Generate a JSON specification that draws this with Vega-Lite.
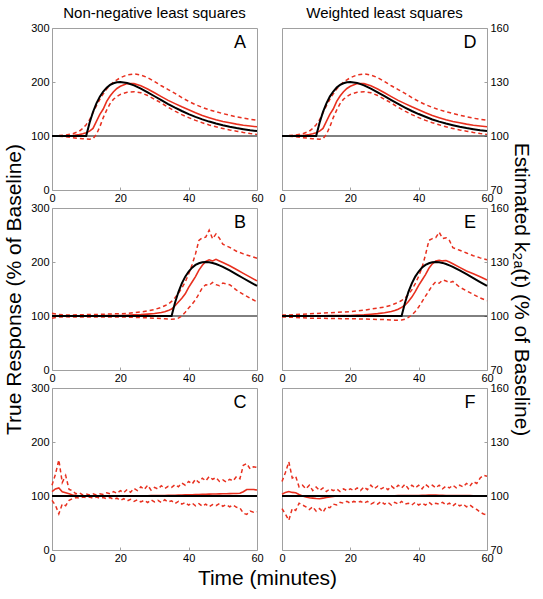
{
  "$schema": "https://vega.github.io/schema/vega-lite/v6.json",
  "padding": {"left": 3, "top": 5, "right": 5, "bottom": 5},
  "config": {
    "view": {"stroke": "#a0a0a0", "strokeWidth": 1},
    "font": "Liberation Sans",
    "axis": {"grid": false, "domain": false, "ticks": true, "tickSize": -3, "tickColor": "#a0a0a0", "labelFont": "Liberation Sans", "labelFontSize": 11, "labelColor": "black", "labelFlush": false, "labelPadding": 6, "titleFont": "Liberation Sans", "titleFontWeight": "normal", "titleFontSize": 21, "titleColor": "black"},
    "title": {"font": "Liberation Sans", "fontWeight": "normal", "color": "black"}
  },
  "title": {"text": "Time (minutes)", "orient": "bottom", "anchor": "middle", "fontSize": 21, "offset": 4},
  "datasets": {
    "d": [
      {"p":"A","t":0,"tr":100,"m":100,"u":100,"l":100},
      {"p":"A","t":2,"tr":100,"m":100,"u":101,"l":99.5},
      {"p":"A","t":4,"tr":100,"m":100.5,"u":102,"l":98.5},
      {"p":"A","t":6,"tr":100,"m":101,"u":104,"l":97},
      {"p":"A","t":8,"tr":100,"m":102.5,"u":109,"l":95.5},
      {"p":"A","t":9,"tr":100,"m":104,"u":114,"l":95},
      {"p":"A","t":10,"tr":100,"m":106,"u":121,"l":94.5},
      {"p":"A","t":11,"tr":124.6,"m":109,"u":130,"l":94},
      {"p":"A","t":12,"tr":144.5,"m":114,"u":143,"l":95},
      {"p":"A","t":13,"tr":160.4,"m":127,"u":156,"l":103},
      {"p":"A","t":14,"tr":172.9,"m":140,"u":168,"l":117},
      {"p":"A","t":15,"tr":182.4,"m":150,"u":178,"l":134},
      {"p":"A","t":16,"tr":189.5,"m":164,"u":187,"l":148},
      {"p":"A","t":17,"tr":194.5,"m":174,"u":194,"l":160},
      {"p":"A","t":18,"tr":197.7,"m":182,"u":200,"l":168},
      {"p":"A","t":19,"tr":199.5,"m":188,"u":204,"l":173},
      {"p":"A","t":20,"tr":200,"m":192,"u":208,"l":177},
      {"p":"A","t":22,"tr":198.2,"m":197,"u":213,"l":181},
      {"p":"A","t":24,"tr":193.8,"m":197,"u":215,"l":182},
      {"p":"A","t":26,"tr":187.8,"m":193,"u":213,"l":180},
      {"p":"A","t":28,"tr":180.9,"m":187,"u":208,"l":175},
      {"p":"A","t":30,"tr":173.6,"m":180,"u":201,"l":168},
      {"p":"A","t":32,"tr":166.3,"m":173,"u":193,"l":161},
      {"p":"A","t":34,"tr":159.2,"m":166,"u":186,"l":153},
      {"p":"A","t":36,"tr":152.5,"m":160,"u":179,"l":146},
      {"p":"A","t":38,"tr":146.3,"m":154,"u":171,"l":139.5},
      {"p":"A","t":40,"tr":140.6,"m":148.5,"u":164,"l":134},
      {"p":"A","t":42,"tr":135.5,"m":143,"u":158,"l":129},
      {"p":"A","t":44,"tr":130.8,"m":138,"u":153,"l":124.5},
      {"p":"A","t":46,"tr":126.7,"m":134,"u":148.5,"l":120.5},
      {"p":"A","t":48,"tr":123.1,"m":130,"u":145,"l":117},
      {"p":"A","t":50,"tr":119.9,"m":127,"u":141.5,"l":114},
      {"p":"A","t":52,"tr":117.1,"m":124.5,"u":138.5,"l":111},
      {"p":"A","t":54,"tr":114.7,"m":122,"u":135.5,"l":109},
      {"p":"A","t":56,"tr":112.6,"m":120,"u":133,"l":106.5},
      {"p":"A","t":58,"tr":110.7,"m":118.5,"u":131,"l":104.5},
      {"p":"A","t":60,"tr":109.2,"m":117,"u":129,"l":103},

      {"p":"D","t":0,"tr":100,"m":100,"u":100,"l":100},
      {"p":"D","t":2,"tr":100,"m":100,"u":100.3,"l":99.9},
      {"p":"D","t":4,"tr":100,"m":100.2,"u":100.6,"l":99.6},
      {"p":"D","t":6,"tr":100,"m":100.3,"u":101.2,"l":99.1},
      {"p":"D","t":8,"tr":100,"m":100.8,"u":102.7,"l":98.7},
      {"p":"D","t":9,"tr":100,"m":101.2,"u":104.2,"l":98.5},
      {"p":"D","t":10,"tr":100,"m":101.8,"u":106.3,"l":98.4},
      {"p":"D","t":11,"tr":107.4,"m":102.7,"u":109,"l":98.2},
      {"p":"D","t":12,"tr":113.4,"m":104.2,"u":112.9,"l":98.5},
      {"p":"D","t":13,"tr":118.1,"m":108.1,"u":116.8,"l":100.9},
      {"p":"D","t":14,"tr":121.9,"m":112,"u":120.4,"l":105.1},
      {"p":"D","t":15,"tr":124.7,"m":115,"u":123.4,"l":110.2},
      {"p":"D","t":16,"tr":126.9,"m":119.2,"u":126.1,"l":114.4},
      {"p":"D","t":17,"tr":128.4,"m":122.2,"u":128.2,"l":118},
      {"p":"D","t":18,"tr":129.3,"m":124.6,"u":130,"l":120.4},
      {"p":"D","t":19,"tr":129.9,"m":126.4,"u":131.2,"l":121.9},
      {"p":"D","t":20,"tr":130,"m":127.6,"u":132.4,"l":123.1},
      {"p":"D","t":22,"tr":129.5,"m":129.1,"u":133.9,"l":124.3},
      {"p":"D","t":24,"tr":128.1,"m":129.1,"u":134.5,"l":124.6},
      {"p":"D","t":26,"tr":126.3,"m":127.9,"u":133.9,"l":124},
      {"p":"D","t":28,"tr":124.3,"m":126.1,"u":132.4,"l":122.5},
      {"p":"D","t":30,"tr":122.1,"m":124,"u":130.3,"l":120.4},
      {"p":"D","t":32,"tr":119.9,"m":121.9,"u":127.9,"l":118.3},
      {"p":"D","t":34,"tr":117.8,"m":119.8,"u":125.8,"l":115.9},
      {"p":"D","t":36,"tr":115.8,"m":118,"u":123.7,"l":113.8},
      {"p":"D","t":38,"tr":113.9,"m":116.2,"u":121.3,"l":111.9},
      {"p":"D","t":40,"tr":112.2,"m":114.6,"u":119.2,"l":110.2},
      {"p":"D","t":42,"tr":110.7,"m":112.9,"u":117.4,"l":108.7},
      {"p":"D","t":44,"tr":109.2,"m":111.4,"u":115.9,"l":107.4},
      {"p":"D","t":46,"tr":108,"m":110.2,"u":114.6,"l":106.2},
      {"p":"D","t":48,"tr":106.9,"m":109,"u":113.5,"l":105.1},
      {"p":"D","t":50,"tr":106,"m":108.1,"u":112.5,"l":104.2},
      {"p":"D","t":52,"tr":105.1,"m":107.4,"u":111.6,"l":103.3},
      {"p":"D","t":54,"tr":104.4,"m":106.6,"u":110.7,"l":102.7},
      {"p":"D","t":56,"tr":103.8,"m":106,"u":109.9,"l":102},
      {"p":"D","t":58,"tr":103.2,"m":105.6,"u":109.3,"l":101.4},
      {"p":"D","t":60,"tr":102.8,"m":105.1,"u":108.7,"l":100.9},

      {"p":"B","t":0,"tr":100,"m":101,"u":105,"l":96},
      {"p":"B","t":2,"tr":100,"m":100.5,"u":103,"l":98},
      {"p":"B","t":4,"tr":100,"m":100.5,"u":102,"l":98.5},
      {"p":"B","t":6,"tr":100,"m":100.5,"u":102,"l":98},
      {"p":"B","t":8,"tr":100,"m":100.5,"u":102.5,"l":98},
      {"p":"B","t":10,"tr":100,"m":100.5,"u":102.5,"l":98},
      {"p":"B","t":12,"tr":100,"m":100.5,"u":103,"l":98},
      {"p":"B","t":14,"tr":100,"m":100.5,"u":103,"l":98},
      {"p":"B","t":16,"tr":100,"m":100.8,"u":103.5,"l":98},
      {"p":"B","t":18,"tr":100,"m":100.8,"u":104,"l":98},
      {"p":"B","t":20,"tr":100,"m":101,"u":104,"l":98},
      {"p":"B","t":22,"tr":100,"m":101.5,"u":105,"l":98},
      {"p":"B","t":24,"tr":100,"m":102,"u":106,"l":97.5},
      {"p":"B","t":26,"tr":100,"m":102.5,"u":107.5,"l":97},
      {"p":"B","t":28,"tr":100,"m":103.5,"u":109.5,"l":96.5},
      {"p":"B","t":30,"tr":100,"m":104.5,"u":112,"l":96},
      {"p":"B","t":32,"tr":100,"m":106.5,"u":116,"l":95.5},
      {"p":"B","t":33,"tr":100,"m":108,"u":119,"l":95},
      {"p":"B","t":34,"tr":100,"m":110,"u":122,"l":94.5},
      {"p":"B","t":35,"tr":100,"m":113,"u":127,"l":94},
      {"p":"B","t":36,"tr":124.6,"m":119,"u":134,"l":94.5},
      {"p":"B","t":37,"tr":144.5,"m":126,"u":142,"l":96},
      {"p":"B","t":38,"tr":160.4,"m":133,"u":152,"l":100},
      {"p":"B","t":39,"tr":172.9,"m":141,"u":163,"l":107},
      {"p":"B","t":40,"tr":182.4,"m":153,"u":178,"l":115},
      {"p":"B","t":41,"tr":189.5,"m":163,"u":195,"l":122},
      {"p":"B","t":42,"tr":194.5,"m":173,"u":215,"l":130},
      {"p":"B","t":43,"tr":197.7,"m":185,"u":240,"l":141},
      {"p":"B","t":44,"tr":199.5,"m":194,"u":245,"l":152},
      {"p":"B","t":45,"tr":200,"m":201,"u":246,"l":158},
      {"p":"B","t":46,"tr":199.5,"m":204,"u":259,"l":157},
      {"p":"B","t":47,"tr":198.2,"m":202,"u":243,"l":162},
      {"p":"B","t":48,"tr":196.3,"m":205,"u":252,"l":158},
      {"p":"B","t":49,"tr":193.8,"m":202,"u":244,"l":156},
      {"p":"B","t":50,"tr":191,"m":199,"u":233,"l":161},
      {"p":"B","t":52,"tr":184.4,"m":193,"u":227,"l":158},
      {"p":"B","t":54,"tr":177.3,"m":186,"u":220,"l":148},
      {"p":"B","t":56,"tr":169.9,"m":179,"u":215,"l":140},
      {"p":"B","t":58,"tr":162.7,"m":172,"u":211,"l":133},
      {"p":"B","t":60,"tr":155.8,"m":165,"u":207,"l":126},

      {"p":"E","t":0,"tr":100,"m":100,"u":100.5,"l":99.5},
      {"p":"E","t":2,"tr":100,"m":100,"u":100.5,"l":99.3},
      {"p":"E","t":4,"tr":100,"m":100,"u":100.8,"l":99.2},
      {"p":"E","t":6,"tr":100,"m":100,"u":101,"l":99},
      {"p":"E","t":8,"tr":100,"m":100,"u":101.2,"l":98.8},
      {"p":"E","t":10,"tr":100,"m":100.1,"u":101.4,"l":98.8},
      {"p":"E","t":12,"tr":100,"m":100.1,"u":101.6,"l":98.7},
      {"p":"E","t":14,"tr":100,"m":100.2,"u":101.8,"l":98.6},
      {"p":"E","t":16,"tr":100,"m":100.2,"u":102,"l":98.6},
      {"p":"E","t":18,"tr":100,"m":100.3,"u":102.2,"l":98.5},
      {"p":"E","t":20,"tr":100,"m":100.3,"u":102.4,"l":98.5},
      {"p":"E","t":22,"tr":100,"m":100.5,"u":102.8,"l":98.4},
      {"p":"E","t":24,"tr":100,"m":100.7,"u":103.2,"l":98.3},
      {"p":"E","t":26,"tr":100,"m":101,"u":103.8,"l":98.2},
      {"p":"E","t":28,"tr":100,"m":101.3,"u":104.4,"l":98.1},
      {"p":"E","t":30,"tr":100,"m":101.8,"u":105,"l":98},
      {"p":"E","t":32,"tr":100,"m":102.5,"u":106,"l":97.8},
      {"p":"E","t":33,"tr":100,"m":103,"u":106.8,"l":97.7},
      {"p":"E","t":34,"tr":100,"m":103.8,"u":107.6,"l":97.7},
      {"p":"E","t":35,"tr":100,"m":104.8,"u":108.6,"l":97.8},
      {"p":"E","t":36,"tr":107.4,"m":106,"u":110,"l":98.2},
      {"p":"E","t":37,"tr":113.4,"m":108,"u":112,"l":99.2},
      {"p":"E","t":38,"tr":118.1,"m":110.5,"u":114.5,"l":100.5},
      {"p":"E","t":39,"tr":121.9,"m":113.5,"u":118,"l":102.5},
      {"p":"E","t":40,"tr":124.7,"m":117,"u":122,"l":105},
      {"p":"E","t":41,"tr":126.9,"m":120,"u":127,"l":108},
      {"p":"E","t":42,"tr":128.4,"m":123,"u":134,"l":111},
      {"p":"E","t":43,"tr":129.3,"m":126.5,"u":142,"l":114},
      {"p":"E","t":44,"tr":129.9,"m":129,"u":143,"l":117},
      {"p":"E","t":45,"tr":130,"m":130.5,"u":143.5,"l":119},
      {"p":"E","t":46,"tr":129.9,"m":131,"u":146.5,"l":118.2},
      {"p":"E","t":47,"tr":129.5,"m":130.6,"u":143,"l":120},
      {"p":"E","t":48,"tr":128.9,"m":130.8,"u":143.5,"l":119.5},
      {"p":"E","t":49,"tr":128.1,"m":130,"u":142,"l":118.5},
      {"p":"E","t":50,"tr":127.3,"m":129,"u":138,"l":119.2},
      {"p":"E","t":52,"tr":125.3,"m":127,"u":136.5,"l":116},
      {"p":"E","t":54,"tr":123.2,"m":125,"u":135,"l":114},
      {"p":"E","t":56,"tr":121,"m":123.5,"u":133.5,"l":112},
      {"p":"E","t":58,"tr":118.8,"m":121.8,"u":132.3,"l":110},
      {"p":"E","t":60,"tr":116.7,"m":120,"u":131.3,"l":108.5},

      {"p":"C","t":0,"tr":100,"m":108,"u":120,"l":92},
      {"p":"C","t":1,"tr":100,"m":113,"u":140,"l":83},
      {"p":"C","t":2,"tr":100,"m":115,"u":167,"l":67},
      {"p":"C","t":3,"tr":100,"m":108,"u":125,"l":85},
      {"p":"C","t":4,"tr":100,"m":106,"u":138,"l":82},
      {"p":"C","t":5,"tr":100,"m":104,"u":112,"l":92},
      {"p":"C","t":6,"tr":100,"m":102,"u":110,"l":95},
      {"p":"C","t":7,"tr":100,"m":101,"u":104,"l":97},
      {"p":"C","t":8,"tr":100,"m":100.5,"u":106,"l":96},
      {"p":"C","t":9,"tr":100,"m":100,"u":102,"l":98},
      {"p":"C","t":10,"tr":100,"m":100,"u":104,"l":97},
      {"p":"C","t":11,"tr":100,"m":100,"u":102,"l":98},
      {"p":"C","t":12,"tr":100,"m":100,"u":104,"l":96},
      {"p":"C","t":13,"tr":100,"m":100,"u":102,"l":98},
      {"p":"C","t":14,"tr":100,"m":100,"u":104,"l":96},
      {"p":"C","t":15,"tr":100,"m":100,"u":103,"l":97},
      {"p":"C","t":16,"tr":100,"m":100,"u":106,"l":95},
      {"p":"C","t":17,"tr":100,"m":100,"u":104,"l":97},
      {"p":"C","t":18,"tr":100,"m":100,"u":108,"l":94},
      {"p":"C","t":19,"tr":100,"m":100,"u":105,"l":96},
      {"p":"C","t":20,"tr":100,"m":100,"u":110,"l":92},
      {"p":"C","t":21,"tr":100,"m":100,"u":106,"l":95},
      {"p":"C","t":22,"tr":100,"m":100.2,"u":112,"l":91},
      {"p":"C","t":23,"tr":100,"m":100.2,"u":107,"l":94},
      {"p":"C","t":24,"tr":100,"m":100.3,"u":114,"l":90},
      {"p":"C","t":25,"tr":100,"m":100.4,"u":110,"l":93},
      {"p":"C","t":26,"tr":100,"m":100.5,"u":117,"l":89},
      {"p":"C","t":27,"tr":100,"m":100.5,"u":112,"l":92},
      {"p":"C","t":28,"tr":100,"m":100.6,"u":120,"l":88},
      {"p":"C","t":29,"tr":100,"m":100.7,"u":111,"l":93},
      {"p":"C","t":30,"tr":100,"m":100.8,"u":116,"l":89},
      {"p":"C","t":31,"tr":100,"m":100.9,"u":113,"l":92},
      {"p":"C","t":32,"tr":100,"m":101,"u":119,"l":88},
      {"p":"C","t":33,"tr":100,"m":101,"u":114,"l":93},
      {"p":"C","t":34,"tr":100,"m":101.2,"u":118,"l":89},
      {"p":"C","t":35,"tr":100,"m":101.3,"u":116,"l":91},
      {"p":"C","t":36,"tr":100,"m":101.5,"u":121,"l":86},
      {"p":"C","t":37,"tr":100,"m":101.6,"u":117,"l":90},
      {"p":"C","t":38,"tr":100,"m":101.8,"u":124,"l":85},
      {"p":"C","t":39,"tr":100,"m":102,"u":120,"l":88},
      {"p":"C","t":40,"tr":100,"m":102.2,"u":127,"l":83},
      {"p":"C","t":41,"tr":100,"m":102.4,"u":122,"l":87},
      {"p":"C","t":42,"tr":100,"m":102.6,"u":131,"l":82},
      {"p":"C","t":43,"tr":100,"m":102.8,"u":125,"l":86},
      {"p":"C","t":44,"tr":100,"m":103,"u":133,"l":81},
      {"p":"C","t":45,"tr":100,"m":103.2,"u":128,"l":85},
      {"p":"C","t":46,"tr":100,"m":103.4,"u":136,"l":80},
      {"p":"C","t":47,"tr":100,"m":103.6,"u":131,"l":84},
      {"p":"C","t":48,"tr":100,"m":103.8,"u":134,"l":82},
      {"p":"C","t":49,"tr":100,"m":104,"u":127,"l":86},
      {"p":"C","t":50,"tr":100,"m":104.2,"u":130,"l":81},
      {"p":"C","t":51,"tr":100,"m":104.3,"u":126,"l":84},
      {"p":"C","t":52,"tr":100,"m":104.4,"u":131,"l":80},
      {"p":"C","t":53,"tr":100,"m":104.5,"u":128,"l":83},
      {"p":"C","t":54,"tr":100,"m":104.6,"u":136,"l":79},
      {"p":"C","t":55,"tr":100,"m":105,"u":132,"l":78},
      {"p":"C","t":56,"tr":100,"m":108,"u":157,"l":68},
      {"p":"C","t":57,"tr":100,"m":112,"u":160,"l":66},
      {"p":"C","t":58,"tr":100,"m":112,"u":150,"l":72},
      {"p":"C","t":59,"tr":100,"m":112,"u":154,"l":70},
      {"p":"C","t":60,"tr":100,"m":111,"u":153,"l":71},

      {"p":"F","t":0,"tr":100,"m":101,"u":108,"l":93},
      {"p":"F","t":1,"tr":100,"m":102,"u":113,"l":90},
      {"p":"F","t":2,"tr":100,"m":102.5,"u":119,"l":86.5},
      {"p":"F","t":3,"tr":100,"m":102,"u":110,"l":93},
      {"p":"F","t":4,"tr":100,"m":101.8,"u":111,"l":92},
      {"p":"F","t":5,"tr":100,"m":100.8,"u":105,"l":96},
      {"p":"F","t":6,"tr":100,"m":100,"u":106,"l":95},
      {"p":"F","t":7,"tr":100,"m":99.5,"u":104,"l":94},
      {"p":"F","t":8,"tr":100,"m":99,"u":106,"l":92.5},
      {"p":"F","t":9,"tr":100,"m":98.8,"u":103,"l":94},
      {"p":"F","t":10,"tr":100,"m":98.6,"u":105,"l":91.5},
      {"p":"F","t":11,"tr":100,"m":98.5,"u":103,"l":93},
      {"p":"F","t":12,"tr":100,"m":98.8,"u":104.5,"l":91},
      {"p":"F","t":13,"tr":100,"m":99.2,"u":102.5,"l":94},
      {"p":"F","t":14,"tr":100,"m":99.5,"u":104,"l":93.5},
      {"p":"F","t":15,"tr":100,"m":99.8,"u":103,"l":95.5},
      {"p":"F","t":16,"tr":100,"m":100,"u":104,"l":95},
      {"p":"F","t":17,"tr":100,"m":100,"u":102.5,"l":96.5},
      {"p":"F","t":18,"tr":100,"m":100,"u":104,"l":96},
      {"p":"F","t":19,"tr":100,"m":100,"u":103,"l":97},
      {"p":"F","t":20,"tr":100,"m":100,"u":104,"l":96},
      {"p":"F","t":21,"tr":100,"m":100,"u":103,"l":97},
      {"p":"F","t":22,"tr":100,"m":100,"u":104.5,"l":96.5},
      {"p":"F","t":23,"tr":100,"m":100,"u":103,"l":97},
      {"p":"F","t":24,"tr":100,"m":100,"u":105,"l":96},
      {"p":"F","t":25,"tr":100,"m":100,"u":103.5,"l":97},
      {"p":"F","t":26,"tr":100,"m":100,"u":106,"l":95.5},
      {"p":"F","t":27,"tr":100,"m":100,"u":104,"l":96.5},
      {"p":"F","t":28,"tr":100,"m":100,"u":105.5,"l":95.5},
      {"p":"F","t":29,"tr":100,"m":100,"u":104,"l":97},
      {"p":"F","t":30,"tr":100,"m":100.1,"u":105,"l":95.5},
      {"p":"F","t":31,"tr":100,"m":100.1,"u":103.5,"l":96.5},
      {"p":"F","t":32,"tr":100,"m":100.1,"u":105.5,"l":95},
      {"p":"F","t":33,"tr":100,"m":100.1,"u":104,"l":96.5},
      {"p":"F","t":34,"tr":100,"m":100.2,"u":106,"l":95.5},
      {"p":"F","t":35,"tr":100,"m":100.2,"u":104.5,"l":97},
      {"p":"F","t":36,"tr":100,"m":100.2,"u":106.5,"l":95.5},
      {"p":"F","t":37,"tr":100,"m":100.2,"u":104,"l":96},
      {"p":"F","t":38,"tr":100,"m":100.3,"u":106,"l":95},
      {"p":"F","t":39,"tr":100,"m":100.3,"u":104.5,"l":96.5},
      {"p":"F","t":40,"tr":100,"m":100.3,"u":106,"l":95},
      {"p":"F","t":41,"tr":100,"m":100.4,"u":104,"l":96},
      {"p":"F","t":42,"tr":100,"m":100.4,"u":106.5,"l":95},
      {"p":"F","t":43,"tr":100,"m":100.5,"u":105,"l":96.5},
      {"p":"F","t":44,"tr":100,"m":100.5,"u":106,"l":95},
      {"p":"F","t":45,"tr":100,"m":100.5,"u":104.5,"l":96},
      {"p":"F","t":46,"tr":100,"m":100.4,"u":106,"l":95.5},
      {"p":"F","t":47,"tr":100,"m":100.4,"u":104,"l":96.5},
      {"p":"F","t":48,"tr":100,"m":100.3,"u":105.5,"l":95},
      {"p":"F","t":49,"tr":100,"m":100.3,"u":104.5,"l":96},
      {"p":"F","t":50,"tr":100,"m":100.3,"u":106,"l":94.5},
      {"p":"F","t":51,"tr":100,"m":100.3,"u":104.5,"l":96},
      {"p":"F","t":52,"tr":100,"m":100.2,"u":106,"l":94.5},
      {"p":"F","t":53,"tr":100,"m":100.2,"u":105,"l":95.5},
      {"p":"F","t":54,"tr":100,"m":100.2,"u":107,"l":94},
      {"p":"F","t":55,"tr":100,"m":100.2,"u":105.5,"l":95},
      {"p":"F","t":56,"tr":100,"m":100.1,"u":108,"l":93.5},
      {"p":"F","t":57,"tr":100,"m":100.1,"u":107,"l":92.5},
      {"p":"F","t":58,"tr":100,"m":100,"u":110,"l":91},
      {"p":"F","t":59,"tr":100,"m":100,"u":111.5,"l":90},
      {"p":"F","t":60,"tr":100,"m":100,"u":111,"l":89.5}
    ]
  },
  "columns": 2,
  "spacing": {"row": 18, "column": 25},
  "bounds": "flush",
  "concat": [
    {
      "width": 205, "height": 162,
      "title": {"text": "Non-negative least squares", "fontSize": 15, "offset": 1},
      "data": {"name": "d"},
      "transform": [{"filter": "datum.p === 'A'"}, {"fold": ["tr", "m", "u", "l"], "as": ["s", "v"]}],
      "layer": [
        {"data": {"values": [{}]}, "mark": {"type": "rule", "color": "black", "strokeWidth": 1}, "encoding": {"y": {"datum": 100, "type": "quantitative", "scale": {"domain": [0, 300], "zero": false}}}},
        {"transform": [{"filter": "datum.s === 'u' || datum.s === 'l'"}], "mark": {"type": "line", "color": "#e8301f", "strokeWidth": 1.5, "strokeDash": [4, 3]},
         "encoding": {"x": {"field": "t", "type": "quantitative", "scale": {"domain": [0, 60]}, "axis": {"values": [0, 20, 40, 60], "title": null, "labelPadding": 5}},
                      "y": {"field": "v", "type": "quantitative", "scale": {"domain": [0, 300], "zero": false}, "axis": {"values": [0, 100, 200, 300], "title": null, "orient": "left"}},
                      "detail": {"field": "s"}}},
        {"transform": [{"filter": "datum.s === 'm'"}], "mark": {"type": "line", "color": "#e8301f", "strokeWidth": 1.6},
         "encoding": {"x": {"field": "t", "type": "quantitative"}, "y": {"field": "v", "type": "quantitative"}}},
        {"transform": [{"filter": "datum.s === 'tr'"}], "mark": {"type": "line", "color": "black", "strokeWidth": 2},
         "encoding": {"x": {"field": "t", "type": "quantitative"}, "y": {"field": "v", "type": "quantitative"}}},
        {"data": {"values": [{}]}, "mark": {"type": "text", "text": "A", "fontSize": 18, "font": "Liberation Sans"},
         "encoding": {"x": {"datum": 55, "type": "quantitative"}, "y": {"datum": 272, "type": "quantitative"}}}
      ]
    },
    {
      "width": 205, "height": 162,
      "title": {"text": "Weighted least squares", "fontSize": 15, "offset": 1},
      "data": {"name": "d"},
      "transform": [{"filter": "datum.p === 'D'"}, {"fold": ["tr", "m", "u", "l"], "as": ["s", "v"]}],
      "layer": [
        {"data": {"values": [{}]}, "mark": {"type": "rule", "color": "black", "strokeWidth": 1}, "encoding": {"y": {"datum": 100, "type": "quantitative", "scale": {"domain": [70, 160], "zero": false}}}},
        {"transform": [{"filter": "datum.s === 'u' || datum.s === 'l'"}], "mark": {"type": "line", "color": "#e8301f", "strokeWidth": 1.5, "strokeDash": [4, 3]},
         "encoding": {"x": {"field": "t", "type": "quantitative", "scale": {"domain": [0, 60]}, "axis": {"values": [0, 20, 40, 60], "title": null, "labelPadding": 5}},
                      "y": {"field": "v", "type": "quantitative", "scale": {"domain": [70, 160], "zero": false}, "axis": {"values": [70, 100, 130, 160], "title": null, "orient": "right"}},
                      "detail": {"field": "s"}}},
        {"transform": [{"filter": "datum.s === 'm'"}], "mark": {"type": "line", "color": "#e8301f", "strokeWidth": 1.6},
         "encoding": {"x": {"field": "t", "type": "quantitative"}, "y": {"field": "v", "type": "quantitative"}}},
        {"transform": [{"filter": "datum.s === 'tr'"}], "mark": {"type": "line", "color": "black", "strokeWidth": 2},
         "encoding": {"x": {"field": "t", "type": "quantitative"}, "y": {"field": "v", "type": "quantitative"}}},
        {"data": {"values": [{}]}, "mark": {"type": "text", "text": "D", "fontSize": 18, "font": "Liberation Sans"},
         "encoding": {"x": {"datum": 55, "type": "quantitative"}, "y": {"datum": 151.6, "type": "quantitative", "scale": {"domain": [70, 160], "zero": false}}}}
      ]
    },
    {
      "width": 205, "height": 162,
      "data": {"name": "d"},
      "transform": [{"filter": "datum.p === 'B'"}, {"fold": ["tr", "m", "u", "l"], "as": ["s", "v"]}],
      "layer": [
        {"data": {"values": [{}]}, "mark": {"type": "rule", "color": "black", "strokeWidth": 1}, "encoding": {"y": {"datum": 100, "type": "quantitative", "scale": {"domain": [0, 300], "zero": false}}}},
        {"transform": [{"filter": "datum.s === 'u' || datum.s === 'l'"}], "mark": {"type": "line", "color": "#e8301f", "strokeWidth": 1.5, "strokeDash": [4, 3]},
         "encoding": {"x": {"field": "t", "type": "quantitative", "scale": {"domain": [0, 60]}, "axis": {"values": [0, 20, 40, 60], "title": null, "labelPadding": 5}},
                      "y": {"field": "v", "type": "quantitative", "scale": {"domain": [0, 300], "zero": false}, "axis": {"values": [0, 100, 200, 300], "title": "True Response (% of Baseline)", "titlePadding": 6, "orient": "left"}},
                      "detail": {"field": "s"}}},
        {"transform": [{"filter": "datum.s === 'm'"}], "mark": {"type": "line", "color": "#e8301f", "strokeWidth": 1.6},
         "encoding": {"x": {"field": "t", "type": "quantitative"}, "y": {"field": "v", "type": "quantitative"}}},
        {"transform": [{"filter": "datum.s === 'tr'"}], "mark": {"type": "line", "color": "black", "strokeWidth": 2},
         "encoding": {"x": {"field": "t", "type": "quantitative"}, "y": {"field": "v", "type": "quantitative"}}},
        {"data": {"values": [{}]}, "mark": {"type": "text", "text": "B", "fontSize": 18, "font": "Liberation Sans"},
         "encoding": {"x": {"datum": 55, "type": "quantitative"}, "y": {"datum": 272, "type": "quantitative"}}}
      ]
    },
    {
      "width": 205, "height": 162,
      "data": {"name": "d"},
      "transform": [{"filter": "datum.p === 'E'"}, {"fold": ["tr", "m", "u", "l"], "as": ["s", "v"]}],
      "layer": [
        {"data": {"values": [{}]}, "mark": {"type": "rule", "color": "black", "strokeWidth": 1}, "encoding": {"y": {"datum": 100, "type": "quantitative", "scale": {"domain": [70, 160], "zero": false}}}},
        {"transform": [{"filter": "datum.s === 'u' || datum.s === 'l'"}], "mark": {"type": "line", "color": "#e8301f", "strokeWidth": 1.5, "strokeDash": [4, 3]},
         "encoding": {"x": {"field": "t", "type": "quantitative", "scale": {"domain": [0, 60]}, "axis": {"values": [0, 20, 40, 60], "title": null, "labelPadding": 5}},
                      "y": {"field": "v", "type": "quantitative", "scale": {"domain": [70, 160], "zero": false}, "axis": {"values": [70, 100, 130, 160], "title": "Estimated k₂ₐ(t) (% of Baseline)", "titlePadding": 2, "orient": "right"}},
                      "detail": {"field": "s"}}},
        {"transform": [{"filter": "datum.s === 'm'"}], "mark": {"type": "line", "color": "#e8301f", "strokeWidth": 1.6},
         "encoding": {"x": {"field": "t", "type": "quantitative"}, "y": {"field": "v", "type": "quantitative"}}},
        {"transform": [{"filter": "datum.s === 'tr'"}], "mark": {"type": "line", "color": "black", "strokeWidth": 2},
         "encoding": {"x": {"field": "t", "type": "quantitative"}, "y": {"field": "v", "type": "quantitative"}}},
        {"data": {"values": [{}]}, "mark": {"type": "text", "text": "E", "fontSize": 18, "font": "Liberation Sans"},
         "encoding": {"x": {"datum": 55, "type": "quantitative"}, "y": {"datum": 151.6, "type": "quantitative", "scale": {"domain": [70, 160], "zero": false}}}}
      ]
    },
    {
      "width": 205, "height": 162,
      "data": {"name": "d"},
      "transform": [{"filter": "datum.p === 'C'"}, {"fold": ["tr", "m", "u", "l"], "as": ["s", "v"]}],
      "layer": [
        {"data": {"values": [{}]}, "mark": {"type": "rule", "color": "black", "strokeWidth": 1}, "encoding": {"y": {"datum": 100, "type": "quantitative", "scale": {"domain": [0, 300], "zero": false}}}},
        {"transform": [{"filter": "datum.s === 'u' || datum.s === 'l'"}], "mark": {"type": "line", "color": "#e8301f", "strokeWidth": 1.5, "strokeDash": [4, 3]},
         "encoding": {"x": {"field": "t", "type": "quantitative", "scale": {"domain": [0, 60]}, "axis": {"values": [0, 20, 40, 60], "title": null, "labelPadding": 5}},
                      "y": {"field": "v", "type": "quantitative", "scale": {"domain": [0, 300], "zero": false}, "axis": {"values": [0, 100, 200, 300], "title": null, "orient": "left"}},
                      "detail": {"field": "s"}}},
        {"transform": [{"filter": "datum.s === 'm'"}], "mark": {"type": "line", "color": "#e8301f", "strokeWidth": 1.6},
         "encoding": {"x": {"field": "t", "type": "quantitative"}, "y": {"field": "v", "type": "quantitative"}}},
        {"transform": [{"filter": "datum.s === 'tr'"}], "mark": {"type": "line", "color": "black", "strokeWidth": 2.2},
         "encoding": {"x": {"field": "t", "type": "quantitative"}, "y": {"field": "v", "type": "quantitative"}}},
        {"data": {"values": [{}]}, "mark": {"type": "text", "text": "C", "fontSize": 18, "font": "Liberation Sans"},
         "encoding": {"x": {"datum": 55, "type": "quantitative"}, "y": {"datum": 272, "type": "quantitative"}}}
      ]
    },
    {
      "width": 205, "height": 162,
      "data": {"name": "d"},
      "transform": [{"filter": "datum.p === 'F'"}, {"fold": ["tr", "m", "u", "l"], "as": ["s", "v"]}],
      "layer": [
        {"data": {"values": [{}]}, "mark": {"type": "rule", "color": "black", "strokeWidth": 1}, "encoding": {"y": {"datum": 100, "type": "quantitative", "scale": {"domain": [70, 160], "zero": false}}}},
        {"transform": [{"filter": "datum.s === 'u' || datum.s === 'l'"}], "mark": {"type": "line", "color": "#e8301f", "strokeWidth": 1.5, "strokeDash": [4, 3]},
         "encoding": {"x": {"field": "t", "type": "quantitative", "scale": {"domain": [0, 60]}, "axis": {"values": [0, 20, 40, 60], "title": null, "labelPadding": 5}},
                      "y": {"field": "v", "type": "quantitative", "scale": {"domain": [70, 160], "zero": false}, "axis": {"values": [70, 100, 130, 160], "title": null, "orient": "right"}},
                      "detail": {"field": "s"}}},
        {"transform": [{"filter": "datum.s === 'm'"}], "mark": {"type": "line", "color": "#e8301f", "strokeWidth": 1.6},
         "encoding": {"x": {"field": "t", "type": "quantitative"}, "y": {"field": "v", "type": "quantitative"}}},
        {"transform": [{"filter": "datum.s === 'tr'"}], "mark": {"type": "line", "color": "black", "strokeWidth": 2.2},
         "encoding": {"x": {"field": "t", "type": "quantitative"}, "y": {"field": "v", "type": "quantitative"}}},
        {"data": {"values": [{}]}, "mark": {"type": "text", "text": "F", "fontSize": 18, "font": "Liberation Sans"},
         "encoding": {"x": {"datum": 55, "type": "quantitative"}, "y": {"datum": 151.6, "type": "quantitative", "scale": {"domain": [70, 160], "zero": false}}}}
      ]
    }
  ]
}
